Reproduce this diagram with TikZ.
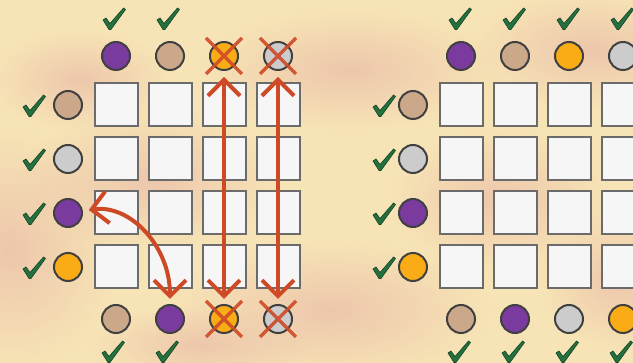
\documentclass[tikz,border=0pt]{standalone}
\usetikzlibrary{arrows.meta,fadings}

\definecolor{fundo}{RGB}{247,228,182}
\definecolor{nuvem}{RGB}{236,194,170}
\definecolor{roxo}{RGB}{122,58,158}
\definecolor{bege}{RGB}{204,168,138}
\definecolor{laranja}{RGB}{250,172,22}
\definecolor{cinza}{RGB}{204,204,204}
\definecolor{tijolo}{RGB}{206,74,38}
\definecolor{verde}{RGB}{36,112,62}

\tikzfading[name=nevoa, inner color=transparent!0, outer color=transparent!100]

\tikzset{
  bola/.style = {circle, draw=black!75, line width=2pt, minimum size=28pt, inner sep=0pt},
  casa/.style = {draw=black!58, line width=2pt, fill=gray!7, minimum size=43pt, inner sep=0pt},
  seta/.style = {tijolo, line width=4pt,
    {Straight Barb[length=16pt,width=32pt]}-{Straight Barb[length=16pt,width=32pt]},
    shorten <=6pt, shorten >=5pt},
  cruz/.style = {tijolo, line width=3.5pt, opacity=0.9},
  okmark/.pic = {
    \filldraw[fill=verde, draw=verde!60!black, line width=0.6pt]
      (-11,1) -- (-8,-1) -- (-4,4.5) -- (9.5,-11) -- (11.5,-9.5) -- (-3,10.5) -- (-5,10.5) -- cycle;
  }
}

\begin{document}
\begin{tikzpicture}[x=1pt, y=-1pt]
\useasboundingbox (0,0) rectangle (633,363);

% fundo com nuvens
\fill[fundo] (0,0) rectangle (633,363);
\foreach \x/\y/\a/\b in {10/250/110/120, 150/180/130/70, 350/70/150/60, 330/310/160/70,
                         590/50/120/60, 500/200/110/70, 620/280/80/70, 80/80/90/50,
                         200/345/110/40}
  \fill[nuvem, path fading=nevoa, fill opacity=0.85] (\x,\y) ellipse [x radius=\a, y radius=\b];

% quadro esquerdo
\foreach \i in {1,...,4}
  \foreach \j in {1,...,4}
    \node[casa] (cE-\i-\j) at ({116+54*(\i-1)},{105+54*(\j-1)}) {};
\foreach \c [count=\i] in {roxo,bege,laranja,cinza}
  \node[bola, fill=\c] (tE\i) at ({116+54*(\i-1)},56) {};
\foreach \c [count=\j] in {bege,cinza,roxo,laranja}
  \node[bola, fill=\c] (lE\j) at (68,{105+54*(\j-1)}) {};
\foreach \c [count=\i] in {bege,roxo,laranja,cinza}
  \node[bola, fill=\c] (bE\i) at ({116+54*(\i-1)},319) {};

\foreach \i in {1,2} {
  \pic at ({114+54*(\i-1)},19) {okmark};
  \pic at ({113+54*(\i-1)},352) {okmark};
}
\foreach \j in {1,...,4}
  \pic at (34,{106+54*(\j-1)}) {okmark};

% trocas
\draw[seta] (tE3) -- (bE3);
\draw[seta] (tE4) -- (bE4);
\draw[seta] (lE3) .. controls +(62,-9) and +(0,-73) .. (bE2);

\foreach \n in {tE3,tE4,bE3,bE4}
  \draw[cruz] (\n) +(-18,-18) -- +(18,18) (\n) +(18,-18) -- +(-18,18);

% quadro direito
\foreach \i in {1,...,4}
  \foreach \j in {1,...,4}
    \node[casa] (cD-\i-\j) at ({461+54*(\i-1)},{105+54*(\j-1)}) {};
\foreach \c [count=\i] in {roxo,bege,laranja,cinza}
  \node[bola, fill=\c] (tD\i) at ({461+54*(\i-1)},56) {};
\foreach \c [count=\j] in {bege,cinza,roxo,laranja}
  \node[bola, fill=\c] (lD\j) at (413,{105+54*(\j-1)}) {};
\foreach \c [count=\i] in {bege,roxo,cinza,laranja}
  \node[bola, fill=\c] (bD\i) at ({461+54*(\i-1)},319) {};

\foreach \i in {1,...,4} {
  \pic at ({460+54*(\i-1)},19) {okmark};
  \pic at ({459+54*(\i-1)},352) {okmark};
}
\foreach \j in {1,...,4}
  \pic at (384,{106+54*(\j-1)}) {okmark};
\end{tikzpicture}
\end{document}
